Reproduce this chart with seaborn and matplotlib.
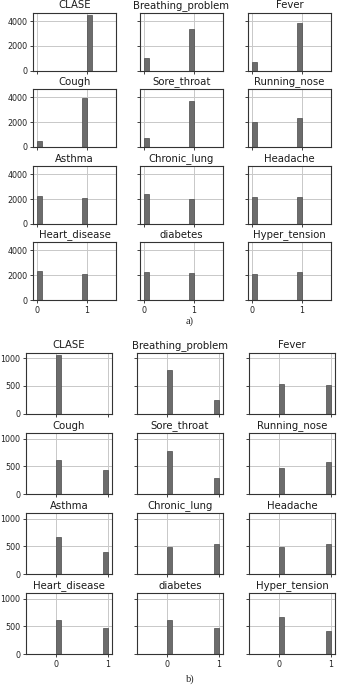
import numpy as np
import pandas as pd
import matplotlib
matplotlib.use("Agg")
import matplotlib.pyplot as plt
import seaborn as sns

features = ["CLASE", "Breathing_problem", "Fever",
            "Cough", "Sore_throat", "Running_nose",
            "Asthma", "Chronic_lung", "Headache",
            "Heart_disease", "diabetes", "Hyper_tension"]

# panel a) counts of value 0 and value 1
a_zero = [0, 1010, 670, 480, 690, 1990, 2260, 2390, 2210, 2370, 2240, 2130]
a_one = [4450, 3390, 3840, 3920, 3740, 2360, 2130, 2000, 2200, 2100, 2160, 2270]

# panel b) counts of value 0 and value 1
b_zero = [1050, 792, 540, 620, 773, 470, 660, 487, 490, 612, 605, 660]
b_one = [0, 240, 510, 430, 280, 577, 395, 545, 550, 468, 462, 414]

values = [0, 1]
a_yticks = [0, 2000, 4000]
b_yticks = [0, 500, 1000]
xticks = [0, 1]

sns.set_style("whitegrid")
plt.rcParams["font.family"] = ["DejaVu Sans"]

W, H = 339, 686
fig = plt.figure(figsize=(W / 100, H / 100), dpi=100)

bar_color = "#6c6c6c"
edge_color = "#4a4a4a"


def bin_range(c0, c1):
    present = [v for v, c in zip(values, [c0, c1]) if c > 0]
    if len(present) == 1:
        v = present[0]
        return v - 0.5, v + 0.5
    return 0.0, 1.0


def draw_panel(zero, one, lefts, tops, w, h, xlim, ylim, yticks):
    for i, name in enumerate(features):
        r, c = divmod(i, 3)
        ax = fig.add_axes([lefts[c] / W, 1 - (tops[r] + h) / H, w / W, h / H])
        lo, hi = bin_range(zero[i], one[i])
        df = pd.DataFrame({"v": values, "w": [zero[i], one[i]]})
        sns.histplot(data=df, x="v", weights="w", bins=10, binrange=(lo, hi),
                     ax=ax, color=bar_color, edgecolor=edge_color,
                     linewidth=0.5, alpha=1.0)
        ax.set_xlim(*xlim)
        ax.set_ylim(*ylim)
        ax.set_xticks(xticks)
        ax.set_yticks(yticks)
        ax.set_xlabel("")
        ax.set_ylabel("")
        ax.set_title(name, fontsize=7.3, pad=3.2, color="#1a1a1a")
        ax.grid(True, color="#c8c8c8", linewidth=0.7)
        ax.set_axisbelow(True)
        for s in ax.spines.values():
            s.set_color("#333333")
            s.set_linewidth(0.8)
        ax.tick_params(axis="both", labelsize=5.8, length=2.5, width=0.6,
                       pad=1.5, colors="#222222", left=True, bottom=True)
        if c != 0:
            ax.set_yticklabels([])
        if r != 3:
            ax.set_xticklabels([])


draw_panel(a_zero, a_one, [33, 140, 248], [12.7, 89, 166, 242], 83, 58,
           (-0.075, 1.575), (0, 4670), a_yticks)
draw_panel(b_zero, b_one, [26, 137, 249], [352.7, 433, 513, 593], 86, 61,
           (-0.575, 1.075), (0, 1100), b_yticks)

fig.text(190 / W, 1 - 321 / H, "a)", ha="center", va="center",
         fontsize=7.5, family=["Liberation Serif"])
fig.text(190 / W, 1 - 679 / H, "b)", ha="center", va="center",
         fontsize=7.5, family=["Liberation Serif"])

fig.savefig("out.png", dpi=100)
